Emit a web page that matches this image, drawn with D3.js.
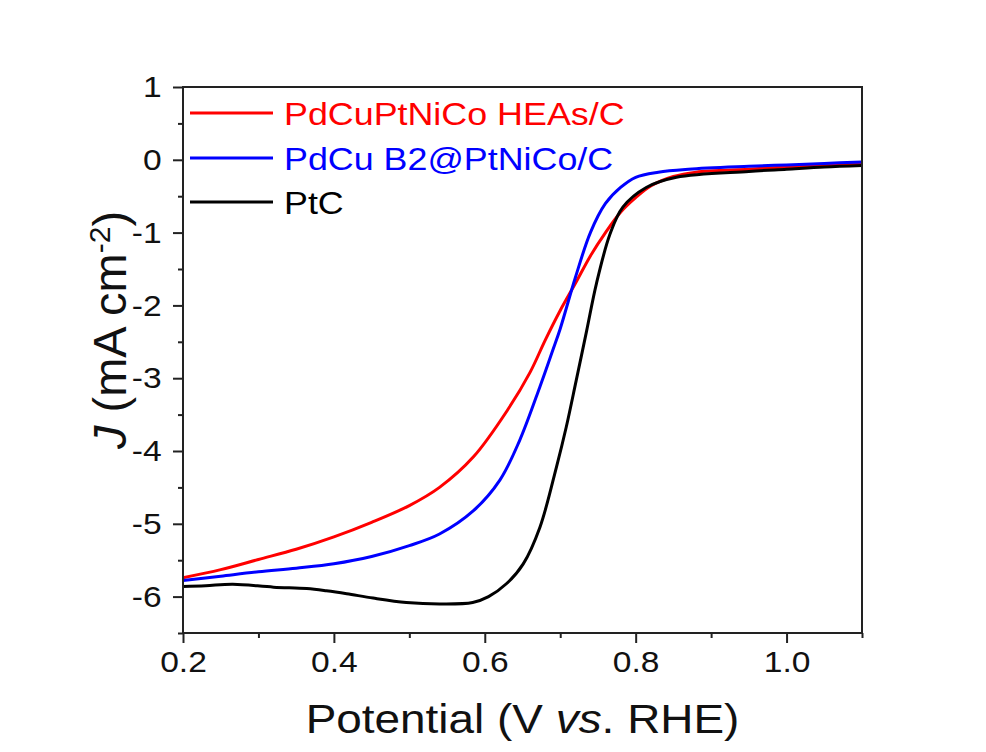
<!DOCTYPE html>
<html>
<head>
<meta charset="utf-8">
<script src="https://cdn.jsdelivr.net/npm/d3@7"></script>
<style>
  body { margin: 0; background: #fff; }
  text { font-family: "Liberation Sans", Arial, sans-serif; }
</style>
</head>
<body>
<div id="chart"></div>
<script>
var chart_width  = 986;
var chart_height = 752;
var margin = {left: 183, top: 87, right: 124, bottom: 119};

// series names
var series_names = ['PdCuPtNiCo HEAs/C', 'PdCu B2@PtNiCo/C', 'PtC'];
var series_colors = ['#ff0000', '#0000ff', '#000000'];

// HEAs/C
var hea_v = [0.20, 0.25, 0.30, 0.35, 0.40, 0.45, 0.50, 0.54, 0.585, 0.63, 0.66, 0.68, 0.70, 0.72, 0.74, 0.76, 0.78, 0.80, 0.82, 0.85, 0.88, 0.95, 1.00, 1.05, 1.10];
var hea_j = [-5.74, -5.63, -5.49, -5.35, -5.18, -4.98, -4.75, -4.50, -4.08, -3.44, -2.92, -2.48, -2.07, -1.70, -1.32, -1.00, -0.72, -0.52, -0.36, -0.23, -0.17, -0.13, -0.10, -0.08, -0.05];

// B2@PtNiCo/C
var b2_v = [0.20, 0.25, 0.30, 0.35, 0.40, 0.45, 0.50, 0.54, 0.585, 0.62, 0.646, 0.673, 0.69, 0.70, 0.72, 0.74, 0.76, 0.78, 0.80, 0.83, 0.87, 0.95, 1.00, 1.05, 1.10];
var b2_j = [-5.78, -5.72, -5.66, -5.61, -5.55, -5.45, -5.30, -5.14, -4.82, -4.40, -3.86, -3.12, -2.62, -2.32, -1.62, -1.00, -0.60, -0.38, -0.24, -0.17, -0.13, -0.09, -0.07, -0.05, -0.03];

// PtC
var ptc_v = [0.20, 0.23, 0.266, 0.32, 0.364, 0.39, 0.417, 0.452, 0.496, 0.54, 0.584, 0.605, 0.629, 0.651, 0.673, 0.695, 0.708, 0.721, 0.735, 0.748, 0.766, 0.783, 0.814, 0.854, 0.95, 1.00, 1.05, 1.10];
var ptc_j = [-5.86, -5.85, -5.83, -5.87, -5.89, -5.92, -5.96, -6.02, -6.08, -6.10, -6.08, -6.00, -5.82, -5.55, -5.05, -4.22, -3.67, -3.04, -2.35, -1.70, -1.02, -0.65, -0.38, -0.24, -0.16, -0.13, -0.10, -0.08];

var x_ticks = [0.2, 0.4, 0.6, 0.8, 1.0];
var x_minor = [0.3, 0.5, 0.7, 0.9, 1.1];
var y_ticks = [1, 0, -1, -2, -3, -4, -5, -6];
var y_minor = [0.5, -0.5, -1.5, -2.5, -3.5, -4.5, -5.5, -6.5];

var series = [
  {v: hea_v, j: hea_j},
  {v: b2_v, j: b2_j},
  {v: ptc_v, j: ptc_j}
];

var stretch = 1.12;

var svg = d3.select('#chart')
  .append('svg')
  .attr('width', chart_width)
  .attr('height', chart_height);

var x_scale = d3.scaleLinear()
  .domain([0.2, 1.1])
  .range([margin.left, chart_width - margin.right]);

var y_scale = d3.scaleLinear()
  .domain([-6.5, 1])
  .range([chart_height - margin.bottom, margin.top]);

// Curves
var line = d3.line()
  .x(function(d) { return x_scale(d[0]); })
  .y(function(d) { return y_scale(d[1]); })
  .curve(d3.curveCatmullRom.alpha(0.5));

series.forEach(function(s, i) {
  var pts = s.v.map(function(v, k) { return [v, s.j[k]]; });
  svg.append('path')
    .attr('d', line(pts))
    .attr('fill', 'none')
    .attr('stroke', series_colors[i])
    .attr('stroke-width', 3);
});

// Frame
svg.append('rect')
  .attr('x', margin.left)
  .attr('y', margin.top)
  .attr('width', chart_width - margin.left - margin.right)
  .attr('height', chart_height - margin.top - margin.bottom)
  .attr('fill', 'none')
  .attr('stroke', '#222')
  .attr('stroke-width', 2);

// X axis
var x_axis = d3.axisBottom(x_scale)
  .tickValues(x_ticks)
  .tickFormat(d3.format('.1f'))
  .tickSize(10)
  .tickPadding(8);

var gx = svg.append('g')
  .attr('transform', 'translate(0,' + (chart_height - margin.bottom) + ')')
  .call(x_axis);

svg.append('g')
  .attr('transform', 'translate(0,' + (chart_height - margin.bottom) + ')')
  .call(d3.axisBottom(x_scale).tickValues(x_minor).tickSize(5).tickFormat(''));

// Y axis
var y_axis = d3.axisLeft(y_scale)
  .tickValues(y_ticks)
  .tickFormat(function(d) { return String(d).replace('\u2212', '-'); })
  .tickSize(10)
  .tickPadding(9);

var gy = svg.append('g')
  .attr('transform', 'translate(' + margin.left + ',0)')
  .call(y_axis);

svg.append('g')
  .attr('transform', 'translate(' + margin.left + ',0)')
  .call(d3.axisLeft(y_scale).tickValues(y_minor).tickSize(5).tickFormat(''));

svg.selectAll('.domain').remove();
svg.selectAll('.tick line').attr('stroke', '#222').attr('stroke-width', 2);

gx.selectAll('text')
  .attr('font-size', 30)
  .attr('fill', '#111')
  .attr('font-family', '"Liberation Sans", Arial, sans-serif')
  .attr('transform', 'scale(' + stretch + ',1)');

gy.selectAll('text')
  .attr('font-size', 30)
  .attr('fill', '#111')
  .attr('font-family', '"Liberation Sans", Arial, sans-serif')
  .attr('transform', 'scale(' + stretch + ',1)');

// Axis titles
svg.append('text')
  .attr('transform', 'translate(' + ((margin.left + chart_width - margin.right) / 2) + ',733) scale(' + stretch + ',1)')
  .attr('text-anchor', 'middle')
  .attr('font-size', 41)
  .attr('fill', '#111')
  .html('Potential (V <tspan font-style="italic">vs</tspan>. RHE)');

svg.append('text')
  .attr('transform', 'translate(126,330) rotate(-90)')
  .attr('text-anchor', 'middle')
  .attr('font-size', 47)
  .attr('fill', '#111')
  .html('<tspan font-style="italic">J</tspan> (mA cm<tspan baseline-shift="super" font-size="30">-2</tspan>)');

// Legend
var legend_y = [113, 158, 202];
series_names.forEach(function(name, i) {
  svg.append('line')
    .attr('x1', 190).attr('x2', 273)
    .attr('y1', legend_y[i]).attr('y2', legend_y[i])
    .attr('stroke', series_colors[i])
    .attr('stroke-width', 3.2);
  svg.append('text')
    .attr('transform', 'translate(284,' + (legend_y[i] + 12) + ') scale(' + stretch + ',1)')
    .attr('font-size', 32)
    .attr('fill', series_colors[i])
    .text(name);
});
</script>
</body>
</html>
